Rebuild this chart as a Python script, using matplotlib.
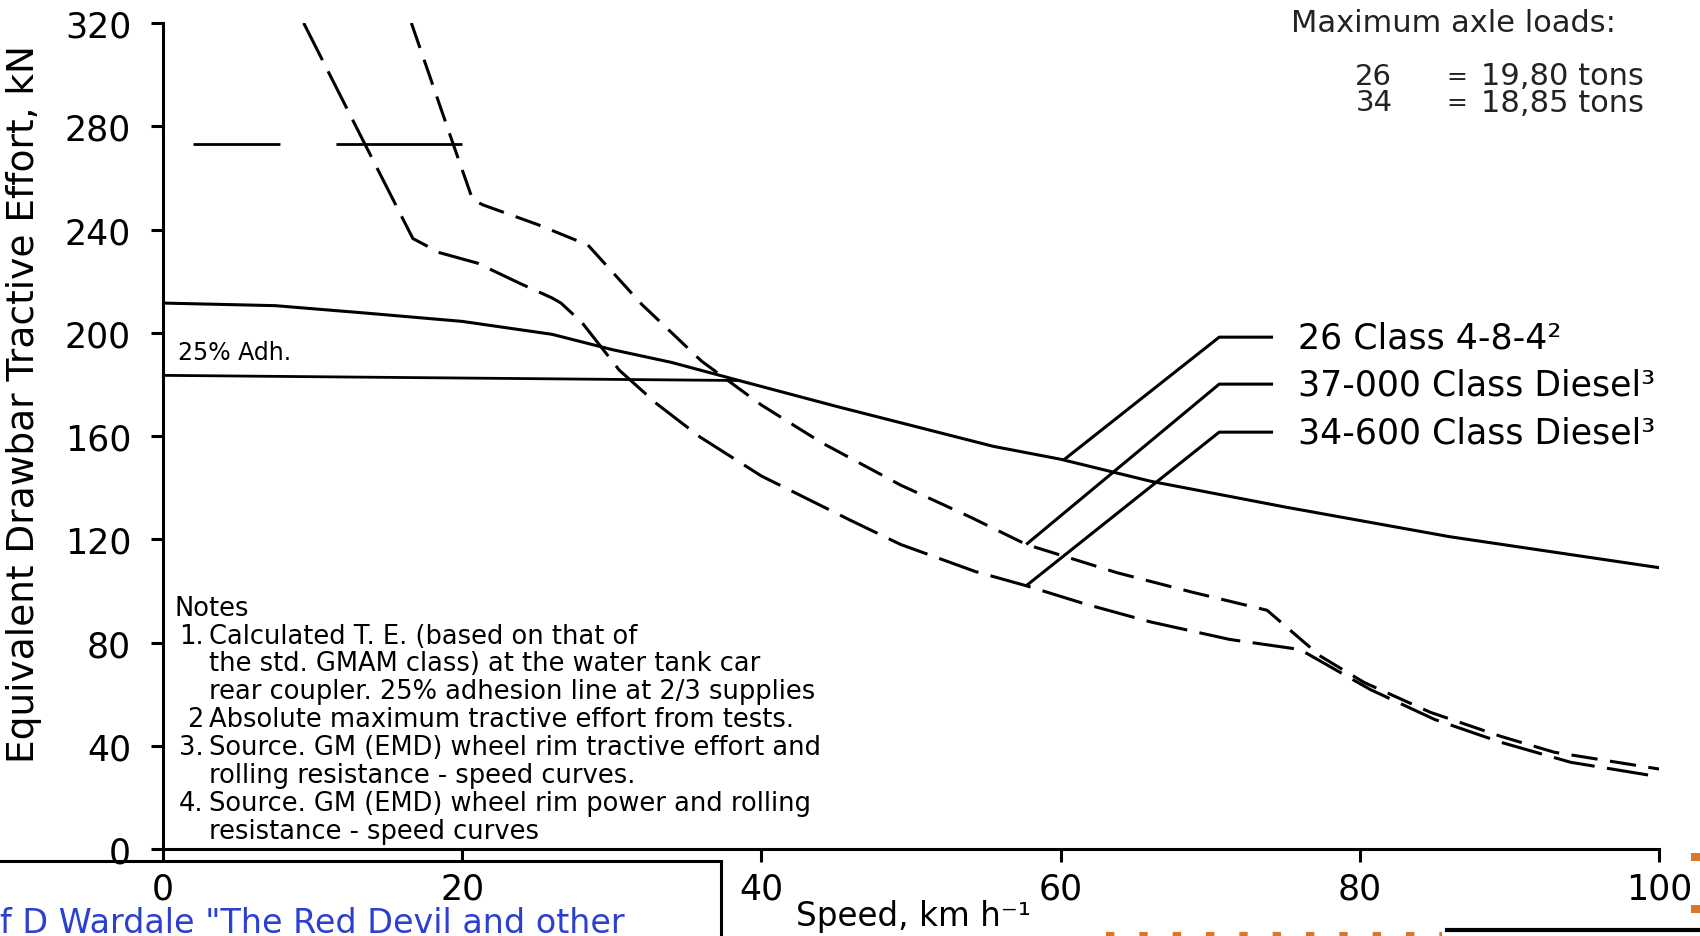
import numpy as np
import matplotlib.pyplot as plt
from matplotlib.patches import Rectangle

plt.rcParams['font.family'] = ['DejaVu Sans']
plt.rcParams['lines.scale_dashes'] = False

# speed (km/h) vs equivalent drawbar tractive effort (kN)
steam_speed = [0, 7.5, 13.6, 20, 26, 30, 34, 38.5, 45, 55.5, 60, 66, 75, 86, 100]
steam_te = [211.5, 210.5, 207.6, 204.4, 199.4, 193.5, 188.5, 181.5, 171.5, 156, 151, 142.5, 132.5, 121, 109]

adh_speed = [0, 38.5]
adh_te = [183.5, 181.5]

test_speed = [0, 20]
test_te = [273, 273]

d37_speed = [16.6, 19.4, 20.7, 21.4, 25, 28.4, 32, 36, 40, 44, 49.3, 54, 57.7, 63.8, 68.8,
             73.8, 76.3, 77.4, 80.3, 84.7, 89.4, 93, 100]
d37_te = [320, 273, 251.5, 249.5, 242, 234, 211, 189, 172, 157.5, 141, 128.5, 118, 107, 99.5,
          92.5, 80, 74.6, 64.5, 53, 43.7, 37.5, 31]

d34_speed = [9.4, 13.5, 16.7, 18.5, 21, 23.9, 26, 26.6, 28, 30.5, 33, 35.9, 40, 45.9, 49.3,
             54.3, 57.7, 61.6, 66, 71.3, 76, 80.7, 85, 89.4, 94.1, 100]
d34_te = [320, 273, 236.5, 231, 227, 219, 213.5, 211.5, 204, 185.5, 172.5, 159.6, 144.5, 127.5, 118,
          107.5, 102, 95, 88, 81.2, 77.3, 61.8, 50.2, 41.4, 33.6, 28]

series_labels = ['26 Class 4-8-4²', '37-000 Class Diesel³', '34-600 Class Diesel³']
label_te = [198.3, 180.1, 161.5]
leader_speed = [60.2, 57.7, 57.7]

x_ticks = [0, 20, 40, 60, 80, 100]
y_ticks = [0, 40, 80, 120, 160, 200, 240, 280, 320]

axle_loads = [('26', '19,80 tons'), ('34', '18,85 tons')]

notes = [
    ("", "Notes"),
    ("1.", "Calculated T. E. (based on that of"),
    ("", "the std. GMAM class) at the water tank car"),
    ("", "rear coupler. 25% adhesion line at 2/3 supplies"),
    ("2", "Absolute maximum tractive effort from tests."),
    ("3.", "Source. GM (EMD) wheel rim tractive effort and"),
    ("", "rolling resistance - speed curves."),
    ("4.", "Source. GM (EMD) wheel rim power and rolling"),
    ("", "resistance - speed curves"),
]

fig = plt.figure(figsize=(17, 9.37), dpi=100)
ax = fig.add_axes([0.0959, 0.0928, 0.88, 0.8816])

ax.plot(steam_speed, steam_te, color='k', lw=2.2)
ax.plot(adh_speed, adh_te, color='k', lw=2.0)
ax.plot(test_speed, test_te, color='k', lw=2.0,
        linestyle=(199.4, (62.6, 40.3, 96.5, 21.6)))
ax.plot(d37_speed, d37_te, color='k', lw=2.2, linestyle=(0, (19, 9)))
ax.plot(d34_speed, d34_te, color='k', lw=2.2, linestyle=(0, (30, 9)))

# leader lines from the labels to the curves
curves = [(steam_speed, steam_te), (d37_speed, d37_te), (d34_speed, d34_te)]
for lab, ly, lx, (cs, ct) in zip(series_labels, label_te, leader_speed, curves):
    end_te = np.interp(lx, cs, ct)
    ax.plot([74.2, 70.6, lx], [ly, ly, end_te], color='k', lw=2.2, solid_capstyle='butt')
    ax.text(75.9, ly, lab, fontsize=25, va='center', ha='left')

ax.text(1.0, 192.5, '25% Adh.', fontsize=17, va='center', ha='left')

ax.text(75.4, 320, 'Maximum axle loads:', fontsize=22, va='center', ha='left', color='#222222')
for row, (num, load) in enumerate(axle_loads):
    yy = 299.5 - row * 10.2
    ax.text(79.7, yy, num, fontsize=21, va='center', color='#222222')
    ax.text(85.8, yy, '=', fontsize=18, va='center', color='#222222')
    ax.text(88.1, yy, load, fontsize=22, va='center', color='#222222')

for i, (num, line) in enumerate(notes):
    yy = 93.5 - i * 10.8
    if i == 0:
        ax.text(0.8, yy, line, fontsize=18.5, va='center', ha='left')
        continue
    if num:
        ax.text(2.7, yy, num, fontsize=18.5, va='center', ha='right')
    ax.text(3.1, yy, line, fontsize=18.5, va='center', ha='left')

ax.set_xlim(0, 100)
ax.set_ylim(0, 320)
ax.set_xticks(x_ticks)
ax.set_yticks(y_ticks)
ax.spines['top'].set_visible(False)
ax.spines['right'].set_visible(False)
ax.spines['left'].set_linewidth(2.2)
ax.spines['bottom'].set_linewidth(2.2)
ax.tick_params(axis='both', direction='out', length=9, width=2.2, labelsize=25)
ax.tick_params(axis='y', pad=14)
ax.tick_params(axis='x', pad=7)

fig.text(24 / 1700, 1 - 404 / 937, 'Equivalent Drawbar Tractive Effort, kN',
         rotation=90, fontsize=27, ha='center', va='center')
fig.text(913 / 1700, 1 - 917 / 937, 'Speed, km h⁻¹', fontsize=23.5, ha='center', va='center')

# slide fragments at the bottom of the screenshot
fig.add_artist(Rectangle((-0.01, -0.05), 721 / 1700 + 0.01, 0.05 + 1 - 862 / 937,
                         transform=fig.transFigure, fill=False, lw=2.2, ec='k'))
fig.text(0.0, 1 - 907 / 937, 'f D Wardale "The Red Devil and other', color='#2b3fd0',
         fontsize=24, ha='left', va='top')
fig.add_artist(plt.Line2D([1447 / 1700, 1.0], [1 - 931 / 937] * 2, transform=fig.transFigure,
                          color='k', lw=3))
fig.add_artist(plt.Line2D([1106 / 1700, 1442 / 1700], [1 - 935 / 937] * 2,
                          transform=fig.transFigure, color='#d9782a', lw=3,
                          linestyle=(0, (6, 18))))
for yy in [858, 910]:
    fig.add_artist(Rectangle((1691 / 1700, 1 - (yy + 4) / 937), 9 / 1700, 8 / 937,
                             transform=fig.transFigure, color='#d9782a', lw=0))

fig.savefig('out.png', dpi=100)
